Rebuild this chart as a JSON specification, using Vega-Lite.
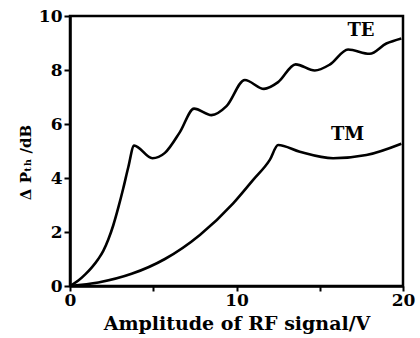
{
  "$schema": "https://vega.github.io/schema/vega-lite/v6.json",
  "autosize": {"type": "none"},
  "padding": {"left": 70, "top": 16, "right": 17, "bottom": 52},
  "width": 333,
  "height": 270,
  "background": "white",
  "config": {
    "view": {"stroke": "black", "strokeWidth": 2.5},
    "font": "DejaVu Serif"
  },
  "datasets": {
    "curves": [
      {"mode": "TE", "x": 0, "y": 0},
      {"mode": "TE", "x": 0.5, "y": 0.2},
      {"mode": "TE", "x": 0.9, "y": 0.42},
      {"mode": "TE", "x": 1.3, "y": 0.68},
      {"mode": "TE", "x": 1.7, "y": 1.0},
      {"mode": "TE", "x": 2.0, "y": 1.3},
      {"mode": "TE", "x": 2.3, "y": 1.72},
      {"mode": "TE", "x": 2.6, "y": 2.25},
      {"mode": "TE", "x": 2.9, "y": 2.9},
      {"mode": "TE", "x": 3.2, "y": 3.62},
      {"mode": "TE", "x": 3.5, "y": 4.4},
      {"mode": "TE", "x": 3.85, "y": 5.2},
      {"mode": "TE", "x": 4.95, "y": 4.73},
      {"mode": "TE", "x": 5.7, "y": 4.93},
      {"mode": "TE", "x": 6.6, "y": 5.7},
      {"mode": "TE", "x": 7.45, "y": 6.57},
      {"mode": "TE", "x": 8.5, "y": 6.33},
      {"mode": "TE", "x": 9.4, "y": 6.66},
      {"mode": "TE", "x": 10.5, "y": 7.63},
      {"mode": "TE", "x": 11.65, "y": 7.3},
      {"mode": "TE", "x": 12.5, "y": 7.55},
      {"mode": "TE", "x": 13.55, "y": 8.21},
      {"mode": "TE", "x": 14.7, "y": 7.98},
      {"mode": "TE", "x": 15.6, "y": 8.2},
      {"mode": "TE", "x": 16.7, "y": 8.76},
      {"mode": "TE", "x": 18.0, "y": 8.6},
      {"mode": "TE", "x": 19.0, "y": 8.98},
      {"mode": "TE", "x": 19.9, "y": 9.17},
      {"mode": "TM", "x": 0, "y": 0},
      {"mode": "TM", "x": 1.7, "y": 0.13},
      {"mode": "TM", "x": 3.7, "y": 0.45},
      {"mode": "TM", "x": 5.7, "y": 1.0},
      {"mode": "TM", "x": 7.8, "y": 1.89},
      {"mode": "TM", "x": 9.8, "y": 3.06},
      {"mode": "TM", "x": 11.0, "y": 3.93},
      {"mode": "TM", "x": 12.0, "y": 4.67},
      {"mode": "TM", "x": 12.5, "y": 5.22},
      {"mode": "TM", "x": 13.8, "y": 4.97},
      {"mode": "TM", "x": 15.8, "y": 4.73},
      {"mode": "TM", "x": 17.8, "y": 4.85},
      {"mode": "TM", "x": 19.9, "y": 5.27}
    ],
    "labels": [
      {"mode": "TE", "x": 17.48, "y": 9.43},
      {"mode": "TM", "x": 16.67, "y": 5.59}
    ]
  },
  "layer": [
    {
      "data": {"name": "curves"},
      "mark": {"type": "line", "color": "black", "strokeWidth": 2.6, "interpolate": "monotone", "clip": true},
      "encoding": {
        "x": {
          "field": "x", "type": "quantitative",
          "scale": {"domain": [0, 20], "nice": false},
          "axis": {
            "values": [0, 5, 10, 15, 20],
            "labelExpr": "datum.value % 10 == 0 ? datum.label : ''",
            "title": "Amplitude of RF signal/V",
            "grid": false,
            "domainColor": "black", "domainWidth": 2.5,
            "tickColor": "black", "tickWidth": 2, "tickSize": 5,
            "labelFont": "DejaVu Serif", "labelFontSize": 17, "labelFontWeight": "bold", "labelColor": "black",
            "labelPadding": 1, "labelFlush": false,
            "titleFont": "DejaVu Serif", "titleFontSize": 19, "titleFontWeight": "bold", "titleColor": "black",
            "titlePadding": 6
          }
        },
        "y": {
          "field": "y", "type": "quantitative",
          "scale": {"domain": [0, 10], "nice": false},
          "axis": {
            "values": [0, 2, 4, 6, 8, 10],
            "title": "Δ Pₜₕ /dB",
            "grid": false,
            "domainColor": "black", "domainWidth": 2.5,
            "tickColor": "black", "tickWidth": 2, "tickSize": 6,
            "labelFont": "DejaVu Serif", "labelFontSize": 17, "labelFontWeight": "bold", "labelColor": "black",
            "labelPadding": 2, "labelFlush": false,
            "titleFont": "DejaVu Serif", "titleFontSize": 15, "titleFontWeight": "bold", "titleColor": "black",
            "titlePadding": 5,
            "titleY": 146
          }
        },
        "detail": {"field": "mode"}
      }
    },
    {
      "data": {"name": "labels"},
      "mark": {"type": "text", "font": "DejaVu Serif", "fontSize": 18, "fontWeight": "bold", "color": "black"},
      "encoding": {
        "x": {"field": "x", "type": "quantitative"},
        "y": {"field": "y", "type": "quantitative"},
        "text": {"field": "mode"}
      }
    }
  ]
}
